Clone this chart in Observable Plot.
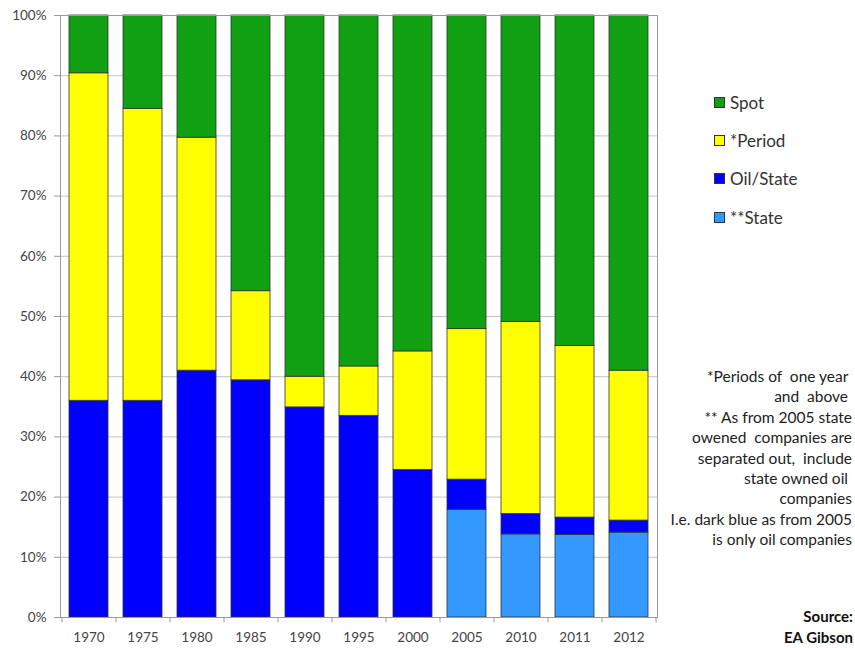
<!DOCTYPE html>
<html>
<head>
<meta charset="utf-8">
<script src="https://cdn.jsdelivr.net/npm/d3@7"></script>
<script src="https://cdn.jsdelivr.net/npm/@observablehq/plot@0.6"></script>
<style>
  html, body { margin: 0; padding: 0; background: #fff; }
  #wrap { position: relative; width: 855px; height: 648px; font-family: Lato, "Open Sans", sans-serif; }
  #legend { position: absolute; left: 714px; top: 83px; font-size: 17px; color: #333; }
  #legend .item { display: flex; align-items: center; height: 38.3px; }
  #legend .sw { width: 9px; height: 9px; border: 1px solid #333; margin-right: 5px; }
  #notes { position: absolute; right: 3px; top: 366px; text-align: right; font-size: 15.5px; line-height: 20.4px; color: #222; white-space: pre; }
  #source { position: absolute; right: 2px; top: 606px; text-align: right; font-size: 15px; line-height: 20.5px; color: #111; font-weight: bold; }
</style>
</head>
<body>
<div id="wrap"></div>
<script>
const years = ["1970","1975","1980","1985","1990","1995","2000","2005","2010","2011","2012"];
const stateVals  = [0, 0, 0, 0, 0, 0, 0, 17.9, 13.8, 13.7, 14.1];
const oilState   = [36.0, 36.0, 41.0, 39.4, 34.9, 33.5, 24.5, 5.0, 3.4, 2.9, 2.0];
const period     = [54.4, 48.5, 38.7, 14.8, 5.1, 8.2, 19.7, 25.0, 31.9, 28.5, 24.9];
const spot       = [9.6, 15.5, 20.3, 45.8, 60.0, 58.3, 55.8, 52.1, 50.9, 54.9, 59.0];
const seriesNames = ["**State", "Oil/State", "*Period", "Spot"];
const seriesColors = ["#3399ff", "#0000ff", "#ffff00", "#11a011"];
const legendOrder = ["Spot", "*Period", "Oil/State", "**State"];
const yTicks = [0,10,20,30,40,50,60,70,80,90,100];
const notes = ["*Periods of  one year ", "and  above ", "** As from 2005 state", "owened  companies are", "separated out,  include", "state owned oil ", "companies", "I.e. dark blue as from 2005", "is only oil companies"];
const sourceLines = ["Source:", "EA Gibson"];

const seriesArrays = [stateVals, oilState, period, spot];
const rows = [];
years.forEach((yr, i) => {
  seriesNames.forEach((s, j) => {
    const v = seriesArrays[j][i];
    if (v > 0) rows.push({year: yr, series: s, value: v});
  });
});

const chart = Plot.plot({
  width: 855,
  height: 648,
  marginLeft: 60,
  marginRight: 198,
  marginTop: 15,
  marginBottom: 31,
  style: {fontFamily: "Lato, 'Open Sans', sans-serif", fontSize: "13.5px", color: "#444", background: "#fff"},
  x: {domain: years, paddingInner: 0.28, paddingOuter: 0.14, label: null},
  y: {domain: [0, 100], label: null},
  color: {domain: seriesNames, range: seriesColors},
  marks: [
    Plot.gridY(yTicks, {stroke: "#c4c4c4", strokeOpacity: 1}),
    Plot.ruleX(years, {x: d => d, y1: 0, y2: -0.9, dx: -27, stroke: "#999"}),
    Plot.ruleX([years[years.length - 1]], {x: d => d, y1: 0, y2: -0.9, dx: 27, stroke: "#999"}),
    Plot.barY(rows, Plot.stackY({x: "year", y: "value", fill: "series", order: null, stroke: "#333", strokeWidth: 0.8})),
    Plot.frame({stroke: "#999"}),
    Plot.axisY(yTicks, {tickSize: 6, tickPadding: 8, tickFormat: d => d + "%", stroke: "#999", fill: "#444"}),
    Plot.axisX({tickSize: 0, tickPadding: 15, fill: "#444"})
  ]
});

const wrap = document.getElementById("wrap");
wrap.appendChild(chart);

const legend = document.createElement("div");
legend.id = "legend";
legendOrder.forEach(name => {
  const item = document.createElement("div");
  item.className = "item";
  const sw = document.createElement("span");
  sw.className = "sw";
  sw.style.background = seriesColors[seriesNames.indexOf(name)];
  const lab = document.createElement("span");
  lab.textContent = name;
  item.appendChild(sw);
  item.appendChild(lab);
  legend.appendChild(item);
});
wrap.appendChild(legend);

const notesDiv = document.createElement("div");
notesDiv.id = "notes";
notesDiv.textContent = notes.join("\n");
wrap.appendChild(notesDiv);

const src = document.createElement("div");
src.id = "source";
src.innerHTML = sourceLines.join("<br>");
wrap.appendChild(src);
</script>
</body>
</html>
